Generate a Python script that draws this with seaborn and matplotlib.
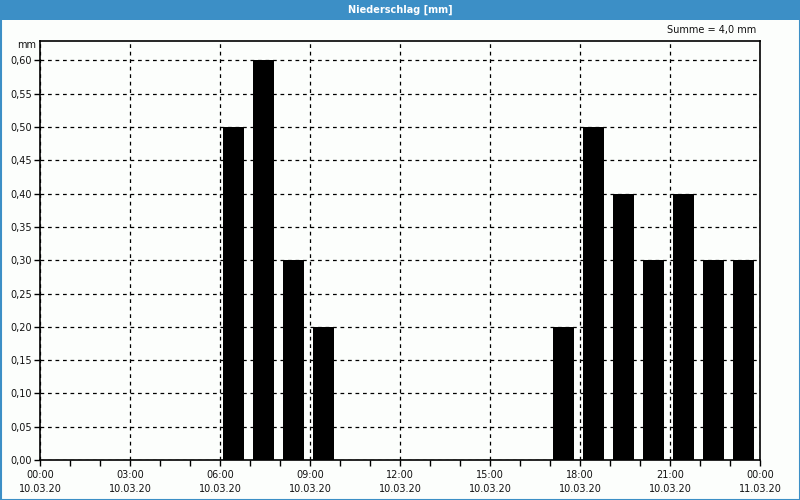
import matplotlib
matplotlib.use("Agg")
import matplotlib.pyplot as plt
import matplotlib.patches as mpatches
import seaborn as sns
import pandas as pd
import numpy as np

# ---- data ----
hours = [6, 7, 8, 9, 17, 18, 19, 20, 21, 22, 23]
precip = [0.5, 0.6, 0.3, 0.2, 0.2, 0.5, 0.4, 0.3, 0.4, 0.3, 0.3]
x_tick_hours = [0, 3, 6, 9, 12, 15, 18, 21, 24]
x_tick_labels = ["00:00\n10.03.20", "03:00\n10.03.20", "06:00\n10.03.20",
                 "09:00\n10.03.20", "12:00\n10.03.20", "15:00\n10.03.20",
                 "18:00\n10.03.20", "21:00\n10.03.20", "00:00\n11.03.20"]
y_ticks = [round(0.05 * i, 2) for i in range(13)]
title = "Niederschlag [mm]"
total_text = "Summe = 4,0 mm"

sns.set_theme(style="white")
plt.rcParams["font.family"] = ["DejaVu Sans"]

W, H = 800, 500
bg = "#FCFEFC"
blue = "#3C8FC6"
fig = plt.figure(figsize=(W / 100, H / 100), dpi=100, facecolor=bg)

# axes in pixel coordinates: left 40, right 760, top 40.5, bottom 460
l, r, t, b = 40, 760, 40.5, 460
ax = fig.add_axes([l / W, 1 - b / H, (r - l) / W, (b - t) / H])
ax.set_facecolor(bg)

df = pd.DataFrame({"x": np.array(hours) + 0.45, "y": precip})
sns.barplot(data=df, x="x", y="y", native_scale=True, width=0.7,
            color="black", saturation=1, edgecolor="none", ax=ax, zorder=3)

ax.set_xlim(0, 24)
ax.set_ylim(0, 0.63)
ax.set_xticks(x_tick_hours)
ax.set_xticklabels(x_tick_labels, fontsize=7, linespacing=1.55, color="#111111")
ax.set_xticks(range(25), minor=True)
ax.set_yticks(y_ticks)
ax.set_yticklabels([f"{v:.2f}".replace(".", ",") for v in y_ticks], fontsize=7, color="#111111")
ax.set_xlabel("")
ax.set_ylabel("")

ax.tick_params(axis="y", which="major", length=4, width=1, color="black", pad=2, left=True)
ax.tick_params(axis="x", which="major", length=4, width=1, color="black", pad=3, bottom=True)
ax.tick_params(axis="x", which="minor", length=4, width=1, color="black", bottom=True)

ax.grid(True, which="major", axis="both", color="black", linestyle=(0, (3, 3)), linewidth=0.9, zorder=1)
ax.set_axisbelow(True)
for s in ax.spines.values():
    s.set_visible(True)
    s.set_color("black")
    s.set_linewidth(1.2)

# "mm" unit label
fig.text(36 / W, 1 - 45 / H, "mm", fontsize=7, ha="right", va="center", color="#111111")
# Summe text
fig.text(756 / W, 1 - 30 / H, total_text, fontsize=7, ha="right", va="center", color="#111111")

# title bar
fig.patches.append(mpatches.Rectangle((0, 1 - 20 / H), 1, 20 / H, transform=fig.transFigure,
                                      facecolor=blue, edgecolor="none", zorder=0))
fig.text(0.5, 1 - 10 / H, title, fontsize=7, ha="center", va="center", color="white", fontweight="bold")
# outer border
fig.patches.append(mpatches.Rectangle((0.5 / W, 0.5 / H), 1 - 1 / W, 1 - 1 / H, transform=fig.transFigure,
                                      facecolor="none", edgecolor=blue, linewidth=1.5, zorder=5))

fig.savefig("out.png", dpi=100, facecolor=bg)
